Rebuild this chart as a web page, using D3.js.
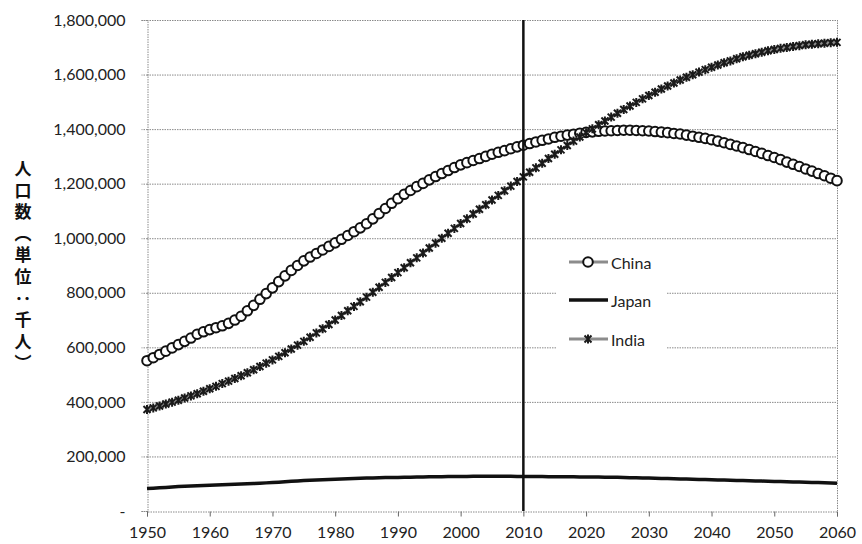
<!DOCTYPE html>
<html>
<head>
<meta charset="utf-8">
<script src="https://cdn.jsdelivr.net/npm/d3@7"></script>
<style>
  body { margin: 0; background: #fff; }
  svg { display: block; font-family: Lato, "Noto Sans", sans-serif; }
</style>
</head>
<body>
<svg id="chart" width="862" height="544"></svg>
<script>
// Population, thousands of persons, one value per year 1950–2060
const years = d3.range(1950, 2061);

const china = [
  551000, 562000, 574000, 586000, 598000, 610000, 622000, 634000, 648000, 657000,
  665000, 672000, 679000, 688000, 700000, 714000, 734000, 754000, 776000, 797000,
  818000, 841000, 862000, 882000, 900000, 917000, 931000, 944000, 957000, 970000,
  983000, 996000, 1010000, 1024000, 1038000, 1053000, 1071000, 1090000, 1109000, 1128000,
  1145000, 1161000, 1175000, 1189000, 1201000, 1214000, 1226000, 1237000, 1248000, 1259000,
  1269000, 1277000, 1285000, 1292000, 1300000, 1308000, 1315000, 1321000, 1328000, 1335000,
  1341000, 1347000, 1353000, 1359000, 1364000, 1370000, 1374000, 1378000, 1381000, 1385000,
  1388000, 1390000, 1392000, 1393000, 1394000, 1395000, 1396000, 1396000, 1395000, 1394000,
  1393000, 1391000, 1389000, 1387000, 1384000, 1382000, 1378000, 1374000, 1370000, 1366000,
  1361000, 1356000, 1350000, 1344000, 1338000, 1332000, 1325000, 1318000, 1311000, 1303000,
  1296000, 1288000, 1279000, 1271000, 1263000, 1254000, 1246000, 1237000, 1229000, 1220000,
  1211000
];

const japan = [
  82200, 83600, 85100, 86500, 88100, 89800, 90800, 91600, 92500, 93300,
  94100, 95000, 95900, 96900, 97900, 98900, 99800, 100800, 101900, 103100,
  104300, 105700, 107200, 108700, 110200, 111500, 112700, 113900, 114900, 115900,
  116800, 117700, 118500, 119300, 120000, 120800, 121400, 121900, 122400, 122800,
  123200, 123600, 124100, 124500, 125000, 125400, 125700, 126000, 126300, 126500,
  126700, 126900, 127100, 127200, 127400, 127400, 127400, 127200, 127000, 126800,
  126500, 126400, 126200, 126100, 125900, 125800, 125600, 125400, 125200, 125000,
  124800, 124500, 124200, 123900, 123600, 123300, 122800, 122300, 121700, 121200,
  120600, 120100, 119500, 118900, 118300, 117700, 117100, 116500, 115800, 115200,
  114600, 114000, 113300, 112700, 112100, 111500, 110900, 110300, 109700, 109100,
  108500, 107900, 107300, 106700, 106100, 105500, 104800, 104100, 103400, 102700,
  101500
];

const india = [
  372000, 378000, 385000, 392000, 399000, 406000, 414000, 422000, 430000, 439000,
  448000, 457000, 467000, 476000, 486000, 496000, 507000, 518000, 530000, 542000,
  554000, 567000, 580000, 594000, 608000, 622000, 637000, 653000, 668000, 684000,
  700000, 717000, 734000, 750000, 767000, 784000, 802000, 820000, 838000, 856000,
  874000, 892000, 910000, 928000, 946000, 964000, 982000, 1000000, 1018000, 1036000,
  1054000, 1071000, 1089000, 1106000, 1123000, 1140000, 1157000, 1174000, 1191000, 1208000,
  1225000, 1242000, 1258000, 1275000, 1292000, 1308000, 1324000, 1340000, 1356000, 1371000,
  1387000, 1401000, 1416000, 1430000, 1444000, 1458000, 1472000, 1485000, 1498000, 1511000,
  1523000, 1535000, 1547000, 1558000, 1569000, 1580000, 1590000, 1599000, 1609000, 1618000,
  1627000, 1635000, 1643000, 1650000, 1658000, 1665000, 1671000, 1676000, 1682000, 1687000,
  1692000, 1696000, 1699000, 1703000, 1706000, 1709000, 1711000, 1713000, 1715000, 1717000,
  1718000
];

const seriesNames = ["China", "Japan", "India"];
const yTicks = [0, 200000, 400000, 600000, 800000, 1000000, 1200000, 1400000, 1600000, 1800000];
const xTicks = [1950, 1960, 1970, 1980, 1990, 2000, 2010, 2020, 2030, 2040, 2050, 2060];
const axisTitle = "人口数（単位：千人）";
const referenceYear = 2010;

const svg = d3.select("#chart");
const x = d3.scaleLinear().domain([1950, 2060]).range([147, 837]);
const y = d3.scaleLinear().domain([0, 1800000]).range([511, 20]);

const gridColor = "#8a8a8a";

// horizontal gridlines (including top border)
svg.append("g").selectAll("line")
  .data(yTicks.filter(d => d > 0))
  .join("line")
  .attr("x1", x.range()[0]).attr("x2", x.range()[1])
  .attr("y1", d => y(d) + 0.5).attr("y2", d => y(d) + 0.5)
  .attr("stroke", gridColor).attr("stroke-width", 1)
  .attr("stroke-dasharray", "1.5,1");

// right border
svg.append("line")
  .attr("x1", x(2060) + 0.5).attr("x2", x(2060) + 0.5)
  .attr("y1", y(1800000)).attr("y2", y(0))
  .attr("stroke", gridColor).attr("stroke-dasharray", "1.5,1");

// y axis
const yAxis = d3.axisLeft(y)
  .tickValues(yTicks)
  .tickSize(6)
  .tickPadding(16)
  .tickFormat(d => d === 0 ? "-" : d3.format(",")(d));
const gy = svg.append("g").attr("transform", `translate(${x(1950) + 0.5},0)`).call(yAxis);
gy.select(".domain").attr("stroke", gridColor).attr("stroke-dasharray", "1.5,1");
gy.selectAll(".tick line").attr("stroke", gridColor).attr("stroke-dasharray", "1.5,1");
gy.selectAll(".tick text").attr("font-family", "Lato, sans-serif").attr("font-size", 16).attr("fill", "#222");

// x axis
const xAxis = d3.axisBottom(x)
  .tickValues(xTicks)
  .tickSize(5)
  .tickPadding(10)
  .tickFormat(d3.format("d"));
const gx = svg.append("g").attr("transform", `translate(0,${y(0) + 0.5})`).call(xAxis);
gx.select(".domain").attr("stroke", gridColor).attr("stroke-dasharray", "1.5,1");
gx.selectAll(".tick line").attr("stroke", "#666");
gx.selectAll(".tick text").attr("font-family", "Lato, sans-serif").attr("font-size", 16).attr("fill", "#222");

// vertical axis title, set in vertical writing mode
svg.append("text")
  .attr("x", 23)
  .attr("y", 160)
  .style("writing-mode", "vertical-rl")
  .style("text-orientation", "upright")
  .style("letter-spacing", "4.6px")
  .attr("font-family", "'Noto Sans CJK JP', sans-serif")
  .attr("font-weight", "bold")
  .attr("font-size", 17)
  .attr("fill", "#111")
  .text(axisTitle);

const line = d3.line().x((d, i) => x(years[i])).y(d => y(d));

// China: gray line with open circles
svg.append("path").datum(china)
  .attr("d", line).attr("fill", "none")
  .attr("stroke", "#8c8c8c").attr("stroke-width", 3);
svg.append("g").selectAll("circle")
  .data(china)
  .join("circle")
  .attr("cx", (d, i) => x(years[i])).attr("cy", d => y(d))
  .attr("r", 4.8)
  .attr("fill", "#fff").attr("stroke", "#111").attr("stroke-width", 2);

// Japan: thick black line
svg.append("path").datum(japan)
  .attr("d", line).attr("fill", "none")
  .attr("stroke", "#111").attr("stroke-width", 3.5);

// India: gray line with star markers
const star = "M-3.5,-3.5L3.5,3.5M-3.5,3.5L3.5,-3.5M0,-4.5L0,4.5";
svg.append("path").datum(india)
  .attr("d", line).attr("fill", "none")
  .attr("stroke", "#8c8c8c").attr("stroke-width", 3);
svg.append("g").selectAll("path")
  .data(india)
  .join("path")
  .attr("transform", (d, i) => `translate(${x(years[i])},${y(d)})`)
  .attr("d", star)
  .attr("fill", "none").attr("stroke", "#1a1a1a").attr("stroke-width", 2);

// reference year marker
svg.append("line")
  .attr("x1", x(referenceYear)).attr("x2", x(referenceYear))
  .attr("y1", y(1800000)).attr("y2", y(0))
  .attr("stroke", "#111").attr("stroke-width", 2.5);

// legend
const legend = svg.append("g");
legend.append("rect")
  .attr("x", 557).attr("y", 244).attr("width", 110).attr("height", 112)
  .attr("fill", "#fff");
const legendRows = [262, 300, 339];
seriesNames.forEach((name, i) => {
  const ly = legendRows[i];
  const g = legend.append("g");
  g.append("line")
    .attr("x1", 569).attr("x2", 608).attr("y1", ly).attr("y2", ly)
    .attr("stroke", name === "Japan" ? "#111" : "#8c8c8c")
    .attr("stroke-width", name === "Japan" ? 3.5 : 3);
  if (name === "China") {
    g.append("circle").attr("cx", 588).attr("cy", ly).attr("r", 4.8)
      .attr("fill", "#fff").attr("stroke", "#111").attr("stroke-width", 2);
  } else if (name === "India") {
    g.append("path").attr("transform", `translate(588,${ly})`).attr("d", star)
      .attr("fill", "none").attr("stroke", "#1a1a1a").attr("stroke-width", 2);
  }
  g.append("text")
    .attr("x", 611).attr("y", ly)
    .attr("dominant-baseline", "central")
    .attr("font-family", "Lato, sans-serif")
    .attr("font-size", 16).attr("fill", "#222")
    .text(name);
});
</script>
</body>
</html>
